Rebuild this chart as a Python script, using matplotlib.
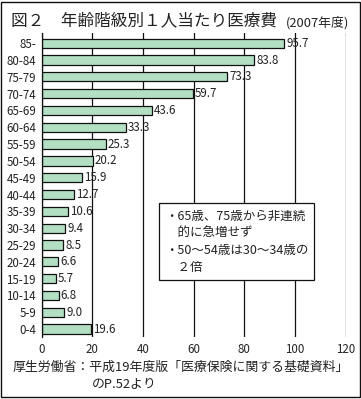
import matplotlib
matplotlib.use("Agg")
import matplotlib.pyplot as plt
from matplotlib.patches import Rectangle

plt.rcParams['font.family'] = ['Noto Sans CJK JP', 'DejaVu Sans']

# 年齢階級（下から上）
ages = ['0-4', '5-9', '10-14', '15-19', '20-24', '25-29', '30-34', '35-39',
        '40-44', '45-49', '50-54', '55-59', '60-64', '65-69', '70-74',
        '75-79', '80-84', '85-']
# 1人当たり医療費（万円）
costs = [19.6, 9.0, 6.8, 5.7, 6.6, 8.5, 9.4, 10.6, 12.7, 15.9, 20.2,
         25.3, 33.3, 43.6, 59.7, 73.3, 83.8, 95.7]
x_ticks = [0, 20, 40, 60, 80, 100, 120]

fig = plt.figure(figsize=(3.61, 3.99), dpi=100)
ax = fig.add_axes([0.115, 0.155, 0.843, 0.762])

ypos = list(range(len(ages)))
ax.barh(ypos, costs, height=0.55, color='#b3dfc3', edgecolor='#111111',
        linewidth=0.9, zorder=3)
for y, v in zip(ypos, costs):
    ax.annotate(f'{v:.1f}', (v, y), xytext=(1.5, 0), textcoords='offset points',
                va='center', ha='left', fontsize=8.3, color='#222222', zorder=4)

ax.set_xlim(0, 120)
ax.set_ylim(-0.48, 17.6)
ax.set_xticks(x_ticks)
ax.set_yticks(ypos)
ax.set_yticklabels(ages)
ax.tick_params(length=0, labelsize=8.3, colors='#222222', pad=4)
ax.grid(axis='x', color='#111111', linewidth=0.9, zorder=1)
for s in ['top', 'right', 'bottom']:
    ax.spines[s].set_visible(False)
ax.spines['left'].set_color('#111111')
ax.spines['left'].set_linewidth(0.9)
ax.spines['left'].set_zorder(5)

# 注記ボックス
note = ('・65歳、75歳から非連続\n'
        '　的に急増せず\n'
        '・50～54歳は30～34歳の\n'
        '　２倍')
ax.text(0.405, 0.42, note, transform=ax.transAxes, fontsize=9,
        color='#222222', va='top', ha='left', linespacing=1.42, zorder=6,
        bbox=dict(boxstyle='square,pad=0.5', facecolor='white',
                  edgecolor='#111111', linewidth=0.9))

# タイトル
fig.text(0.03, 0.948, '図２　年齢階級別１人当たり医療費', fontsize=12,
         color='#222222', va='center', ha='left')
fig.text(0.967, 0.944, '(2007年度)', fontsize=9.3,
         color='#222222', va='center', ha='right')

# 出典
fig.text(0.035, 0.080, '厚生労働省：平成19年度版「医療保険に関する基礎資料」',
         fontsize=9.3, color='#222222', va='center', ha='left')
fig.text(0.255, 0.040, 'のP.52より', fontsize=9.3, color='#222222',
         va='center', ha='left')

# 外枠
fig.patches.append(Rectangle((0.004, 0.004), 0.992, 0.992,
                             transform=fig.transFigure, fill=False,
                             edgecolor='#111111', linewidth=1.0))

fig.savefig('out.png', dpi=100)
